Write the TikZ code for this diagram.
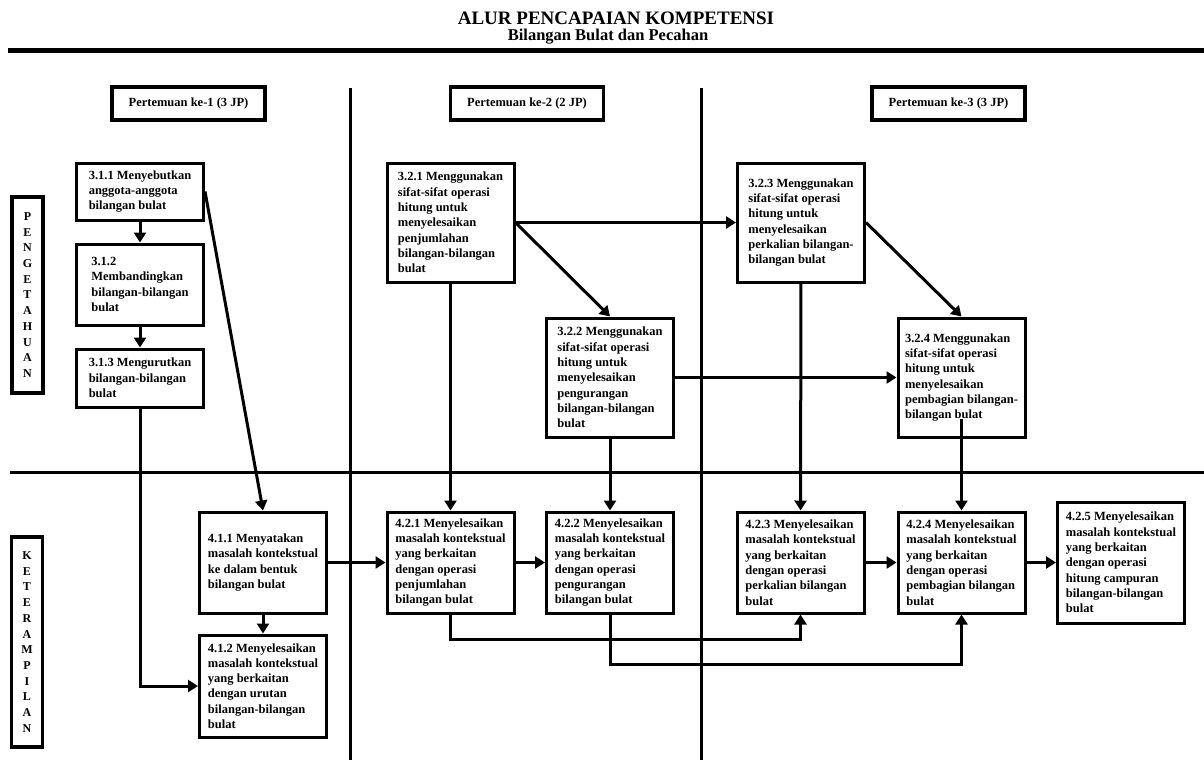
\documentclass[tikz,border=0pt]{standalone}
\usepackage{fontspec}
\setmainfont{Liberation Serif}
\usetikzlibrary{arrows.meta}
\begin{document}
\begin{tikzpicture}[x=1pt,y=-1pt,line width=3pt,>={Triangle[length=10pt,width=12pt]}]
\tikzstyle{every node}=[font=\bfseries\fontsize{12.5}{15.3}\selectfont]
\tikzstyle{kotak}=[draw,line width=3pt,align=left,minimum width=127pt,inner sep=0pt,fill=white]
\tikzstyle{judul}=[draw,line width=3.5pt,minimum width=153pt,minimum height=33pt,font=\bfseries\fontsize{12.5}{15}\selectfont]
\tikzstyle{samping}=[draw,line width=3.5pt,minimum width=31pt,align=center,inner sep=0pt,font=\bfseries\fontsize{12}{15.7}\selectfont]
\useasboundingbox (0,0) rectangle (1204,760);
\node[anchor=base](t1) at (616,25) {\fontsize{19}{21}\selectfont ALUR PENCAPAIAN KOMPETENSI};
\node[anchor=base](t2) at (608,41) {\fontsize{16.5}{18}\selectfont Bilangan Bulat dan Pecahan};
\draw[line width=4.5pt] (8,50.5) -- (1204,50.5);
\draw (350,88) -- (350,760);
\draw (701,88) -- (701,760);
\draw (10,472) -- (1204,472);
\node[judul](h1) at (188.5,103.5) {Pertemuan ke-1 (3 JP)};
\node[judul](h2) at (527,103.5) {Pertemuan ke-2 (2 JP)};
\node[judul](h3) at (948.5,103.5) {Pertemuan ke-3 (3 JP)};
\node[samping,minimum height=196pt](s1) at (27.5,295) {P\\E\\N\\G\\E\\T\\A\\H\\U\\A\\N};
\node[samping,minimum height=210pt](s2) at (27,642) {K\\E\\T\\E\\R\\A\\M\\P\\I\\L\\A\\N};
\node[kotak,minimum height=57pt](k311) at (140,191.5) {3.1.1 Menyebutkan\\anggota-anggota\\bilangan bulat};
\node[kotak,minimum height=81pt](k312) at (140,284.5) {3.1.2\\Membandingkan\\bilangan-bilangan\\bulat};
\node[kotak,minimum height=58pt](k313) at (140,378) {3.1.3 Mengurutkan\\bilangan-bilangan\\bulat};
\node[kotak,minimum height=119pt](k321) at (450.5,222.5) {3.2.1 Menggunakan\\sifat-sifat operasi\\hitung untuk\\menyelesaikan\\penjumlahan\\bilangan-bilangan\\bulat};
\node[kotak,minimum height=119pt](k322) at (610,377.5) {3.2.2 Menggunakan\\sifat-sifat operasi\\hitung untuk\\menyelesaikan\\pengurangan\\bilangan-bilangan\\bulat};
\node[kotak,minimum height=119pt](k323) at (801,222.5) {3.2.3 Menggunakan\\sifat-sifat operasi\\hitung untuk\\menyelesaikan\\perkalian bilangan-\\bilangan bulat};
\node[kotak,minimum height=119pt](k324) at (961.5,377.5) {3.2.4 Menggunakan\\sifat-sifat operasi\\hitung untuk\\menyelesaikan\\pembagian bilangan-\\bilangan bulat};
\node[kotak,minimum height=101pt](k411) at (263,562.5) {4.1.1 Menyatakan\\masalah kontekstual\\ke dalam bentuk\\bilangan bulat};
\node[kotak,minimum height=102pt](k412) at (263,686) {4.1.2 Menyelesaikan\\masalah kontekstual\\yang berkaitan\\dengan urutan\\bilangan-bilangan\\bulat};
\node[kotak,minimum height=101pt](k421) at (450.5,562.5) {4.2.1 Menyelesaikan\\masalah kontekstual\\yang berkaitan\\dengan operasi\\penjumlahan\\bilangan bulat};
\node[kotak,minimum height=101pt](k422) at (610,562.5) {4.2.2 Menyelesaikan\\masalah kontekstual\\yang berkaitan\\dengan operasi\\pengurangan\\bilangan bulat};
\node[kotak,minimum height=101pt](k423) at (800.5,562.5) {4.2.3 Menyelesaikan\\masalah kontekstual\\yang berkaitan\\dengan operasi\\perkalian bilangan\\bulat};
\node[kotak,minimum height=101pt](k424) at (961.5,562.5) {4.2.4 Menyelesaikan\\masalah kontekstual\\yang berkaitan\\dengan operasi\\pembagian bilangan\\bulat};
\node[kotak,minimum height=121pt](k425) at (1121,562.5) {4.2.5 Menyelesaikan\\masalah kontekstual\\yang berkaitan\\dengan operasi\\hitung campuran\\bilangan-bilangan\\bulat};
\draw[->] (k311) -- (k312);
\draw[->] (k312) -- (k313);
\draw[->] (k311.east) -- (k411.north);
\draw[->] (k313.south) |- (k412.west);
\draw[->] (k411) -- (k412);
\draw[->] (k411) -- (k421);
\draw[->] (k321.east) -- (k323.west);
\draw[->] (k321.east) -- (k322.north);
\draw[->] (k323.east) -- (k324.north);
\draw[->] (k322.east) -- (k324.west);
\draw[->] (k321) -- (k421);
\draw[->] (k322) -- (k422);
\draw[->] (k323) -- (k423);
\draw[->] ([yshift=20pt]k324.south) -- (k424.north);
\draw[->] (k421) -- (k422);
\draw[->] (k423) -- (k424);
\draw[->] (k424) -- (k425);
\draw[->] (k421.south) -- ++(0,25) -| (k423.south);
\draw[->] (k422.south) -- ++(0,50) -| (k424.south);
\end{tikzpicture}
\end{document}
